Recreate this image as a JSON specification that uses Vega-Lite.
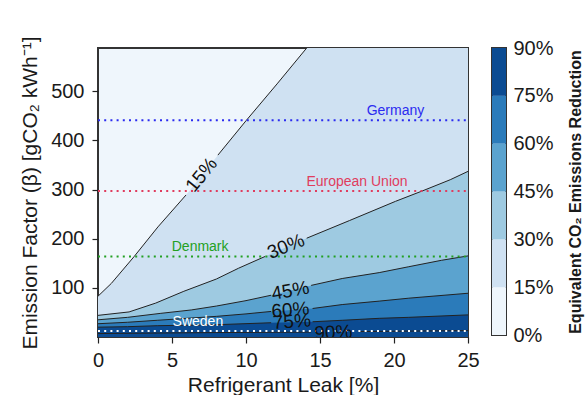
{
  "$schema": "https://vega.github.io/schema/vega-lite/v6.json",
  "padding": {"left": 18, "top": 34, "right": 0, "bottom": 0},
  "bounds": "flush",
  "spacing": 24,
  "resolve": {"scale": {"color": "independent"}},
  "config": {
    "font": "Liberation Sans",
    "view": {"fill": "#eff6fc", "stroke": "#333333", "strokeWidth": 2},
    "axis": {
      "grid": false, "domain": false, "tickColor": "#222222", "tickSize": 6, "tickWidth": 1.2,
      "labelFont": "Liberation Sans", "labelFontSize": 20, "labelColor": "#1a1a1a",
      "titleFont": "Liberation Sans", "titleFontWeight": "normal", "titleColor": "#1a1a1a",
      "labelFlush": false, "labelOverlap": false
    }
  },
  "datasets": {
    "contours": [
      {"level": 15, "part": "a", "x": 0, "beta": 83},
      {"level": 15, "part": "a", "x": 0.9, "beta": 109},
      {"level": 15, "part": "a", "x": 2.45, "beta": 164},
      {"level": 15, "part": "a", "x": 4.05, "beta": 224},
      {"level": 15, "part": "a", "x": 5.95, "beta": 289},
      {"level": 15, "part": "b", "x": 8.1, "beta": 370},
      {"level": 15, "part": "b", "x": 10, "beta": 440},
      {"level": 15, "part": "b", "x": 12.1, "beta": 515},
      {"level": 15, "part": "b", "x": 14.1, "beta": 588},
      {"level": 15, "part": "top", "x": 25, "beta": 588},
      {"level": 30, "part": "a", "x": 0, "beta": 44},
      {"level": 30, "part": "a", "x": 2.1, "beta": 51},
      {"level": 30, "part": "a", "x": 3.9, "beta": 69},
      {"level": 30, "part": "a", "x": 5.8, "beta": 93},
      {"level": 30, "part": "a", "x": 8, "beta": 118},
      {"level": 30, "part": "a", "x": 9.5, "beta": 140},
      {"level": 30, "part": "a", "x": 11.3, "beta": 164},
      {"level": 30, "part": "b", "x": 14.1, "beta": 201},
      {"level": 30, "part": "b", "x": 17, "beta": 237},
      {"level": 30, "part": "b", "x": 20.1, "beta": 276},
      {"level": 30, "part": "b", "x": 21.9, "beta": 297},
      {"level": 30, "part": "b", "x": 23.8, "beta": 320},
      {"level": 30, "part": "b", "x": 25, "beta": 337},
      {"level": 45, "part": "a", "x": 0, "beta": 35},
      {"level": 45, "part": "a", "x": 2, "beta": 40},
      {"level": 45, "part": "a", "x": 4.2, "beta": 48},
      {"level": 45, "part": "a", "x": 6.3, "beta": 55},
      {"level": 45, "part": "a", "x": 8, "beta": 63},
      {"level": 45, "part": "a", "x": 10, "beta": 74},
      {"level": 45, "part": "a", "x": 11.7, "beta": 85},
      {"level": 45, "part": "b", "x": 14.4, "beta": 105},
      {"level": 45, "part": "b", "x": 16.5, "beta": 119},
      {"level": 45, "part": "b", "x": 19, "beta": 131},
      {"level": 45, "part": "b", "x": 21, "beta": 143},
      {"level": 45, "part": "b", "x": 23.2, "beta": 156},
      {"level": 45, "part": "b", "x": 25, "beta": 165},
      {"level": 60, "part": "a", "x": 0, "beta": 27},
      {"level": 60, "part": "a", "x": 2, "beta": 30},
      {"level": 60, "part": "a", "x": 4, "beta": 34},
      {"level": 60, "part": "a", "x": 6, "beta": 38},
      {"level": 60, "part": "a", "x": 8, "beta": 42},
      {"level": 60, "part": "a", "x": 10, "beta": 47},
      {"level": 60, "part": "a", "x": 11.7, "beta": 52},
      {"level": 60, "part": "b", "x": 14.5, "beta": 58},
      {"level": 60, "part": "b", "x": 16.5, "beta": 66},
      {"level": 60, "part": "b", "x": 19, "beta": 73},
      {"level": 60, "part": "b", "x": 21, "beta": 79},
      {"level": 60, "part": "b", "x": 25, "beta": 89},
      {"level": 75, "part": "a", "x": 0, "beta": 20},
      {"level": 75, "part": "a", "x": 2, "beta": 21},
      {"level": 75, "part": "a", "x": 4, "beta": 23},
      {"level": 75, "part": "a", "x": 8, "beta": 25},
      {"level": 75, "part": "a", "x": 11.7, "beta": 29},
      {"level": 75, "part": "b", "x": 14.5, "beta": 31},
      {"level": 75, "part": "b", "x": 16.5, "beta": 34},
      {"level": 75, "part": "b", "x": 19, "beta": 38},
      {"level": 75, "part": "b", "x": 21, "beta": 40},
      {"level": 75, "part": "b", "x": 25, "beta": 45},
      {"level": 90, "part": "a", "x": 0, "beta": 7},
      {"level": 90, "part": "a", "x": 4, "beta": 8},
      {"level": 90, "part": "a", "x": 8, "beta": 9},
      {"level": 90, "part": "a", "x": 14.4, "beta": 10},
      {"level": 90, "part": "b", "x": 17.6, "beta": 11},
      {"level": 90, "part": "b", "x": 21, "beta": 12},
      {"level": 90, "part": "b", "x": 25, "beta": 13}
    ],
    "clabels": [
      {"label": "15%", "x": 7.0, "beta": 330},
      {"label": "30%", "x": 12.7, "beta": 184},
      {"label": "45%", "x": 13.0, "beta": 94},
      {"label": "60%", "x": 13.0, "beta": 55},
      {"label": "75%", "x": 13.1, "beta": 31},
      {"label": "90%", "x": 15.9, "beta": 9}
    ],
    "refs": [
      {"country": "Germany", "beta": 441, "x": 20.1},
      {"country": "European Union", "beta": 297, "x": 17.5},
      {"country": "Denmark", "beta": 164, "x": 6.9},
      {"country": "Sweden", "beta": 12, "x": 6.75}
    ],
    "bands": [
      {"lo": 0, "hi": 15, "band": "0-15"},
      {"lo": 15, "hi": 30, "band": "15-30"},
      {"lo": 30, "hi": 45, "band": "30-45"},
      {"lo": 45, "hi": 60, "band": "45-60"},
      {"lo": 60, "hi": 75, "band": "60-75"},
      {"lo": 75, "hi": 90, "band": "75-90"}
    ]
  },
  "hconcat": [
    {
      "width": 370,
      "height": 289,
      "encoding": {
        "x": {
          "field": "x", "type": "quantitative",
          "scale": {"domain": [0, 25], "nice": false, "zero": false},
          "axis": {"values": [0, 5, 10, 15, 20, 25], "title": "Refrigerant Leak [%]", "titleFontSize": 21, "labelPadding": 7, "titlePadding": 4}
        },
        "y": {
          "field": "beta", "type": "quantitative",
          "scale": {"domain": [0, 588], "nice": false, "zero": false},
          "axis": {"values": [100, 200, 300, 400, 500], "title": "Emission Factor (β) [gCO₂ kWh⁻¹]", "titleFontSize": 21, "labelPadding": 8, "titlePadding": 10}
        }
      },
      "layer": [
        {"data": {"name": "contours"}, "transform": [{"filter": "datum.level == 15"}], "mark": {"type": "area", "fill": "#cfe1f2", "clip": true}, "encoding": {"y2": {"datum": 0}}},
        {"data": {"name": "contours"}, "transform": [{"filter": "datum.level == 30"}], "mark": {"type": "area", "fill": "#9ecae1", "clip": true}, "encoding": {"y2": {"datum": 0}}},
        {"data": {"name": "contours"}, "transform": [{"filter": "datum.level == 45"}], "mark": {"type": "area", "fill": "#5ba3cf", "clip": true}, "encoding": {"y2": {"datum": 0}}},
        {"data": {"name": "contours"}, "transform": [{"filter": "datum.level == 60"}], "mark": {"type": "area", "fill": "#2b7bba", "clip": true}, "encoding": {"y2": {"datum": 0}}},
        {"data": {"name": "contours"}, "transform": [{"filter": "datum.level == 75"}], "mark": {"type": "area", "fill": "#0b4b92", "clip": true}, "encoding": {"y2": {"datum": 0}}},
        {
          "data": {"name": "contours"},
          "transform": [{"filter": "datum.part != 'top'"}],
          "mark": {"type": "line", "stroke": "#222222", "strokeWidth": 1, "clip": true},
          "encoding": {"detail": [{"field": "level", "type": "nominal"}, {"field": "part", "type": "nominal"}]}
        },
        {
          "data": {"name": "refs"},
          "mark": {"type": "rule", "strokeDash": [2, 4.2], "strokeWidth": 2},
          "encoding": {
            "x": {"datum": 0, "type": "quantitative"},
            "x2": {"datum": 25},
            "color": {"field": "country", "type": "nominal", "scale": {"domain": ["Germany", "European Union", "Denmark", "Sweden"], "range": ["#2b2bf0", "#e03c5e", "#23a023", "#ffffff"]}, "legend": null}
          }
        },
        {
          "data": {"name": "refs"},
          "mark": {"type": "text", "fontSize": 14, "dy": -9},
          "encoding": {
            "text": {"field": "country"},
            "color": {"field": "country", "type": "nominal", "scale": {"domain": ["Germany", "European Union", "Denmark", "Sweden"], "range": ["#2b2bf0", "#e03c5e", "#23a023", "#ffffff"]}, "legend": null}
          }
        },
        {"data": {"name": "clabels"}, "transform": [{"filter": "datum.label == '15%'"}], "mark": {"type": "text", "fontSize": 19, "color": "#111111", "angle": 309}, "encoding": {"text": {"field": "label"}}},
        {"data": {"name": "clabels"}, "transform": [{"filter": "datum.label == '30%'"}], "mark": {"type": "text", "fontSize": 19, "color": "#111111", "angle": 338}, "encoding": {"text": {"field": "label"}}},
        {"data": {"name": "clabels"}, "transform": [{"filter": "datum.label == '45%'"}], "mark": {"type": "text", "fontSize": 19, "color": "#111111", "angle": 350}, "encoding": {"text": {"field": "label"}}},
        {"data": {"name": "clabels"}, "transform": [{"filter": "datum.label == '60%'"}], "mark": {"type": "text", "fontSize": 19, "color": "#111111", "angle": 355}, "encoding": {"text": {"field": "label"}}},
        {"data": {"name": "clabels"}, "transform": [{"filter": "datum.label == '75%'"}], "mark": {"type": "text", "fontSize": 19, "color": "#111111", "angle": 356}, "encoding": {"text": {"field": "label"}}},
        {"data": {"name": "clabels"}, "transform": [{"filter": "datum.label == '90%'"}], "mark": {"type": "text", "fontSize": 19, "color": "#111111", "angle": 357, "clip": true}, "encoding": {"text": {"field": "label"}}}
      ]
    },
    {
      "width": 14,
      "height": 287,
      "data": {"name": "bands"},
      "mark": {"type": "rect"},
      "encoding": {
        "x": {"datum": 0, "type": "quantitative", "scale": {"domain": [0, 1], "nice": false}, "axis": null},
        "x2": {"datum": 1},
        "y": {
          "field": "lo", "type": "quantitative",
          "scale": {"domain": [0, 90], "nice": false},
          "axis": {"orient": "right", "values": [0, 15, 30, 45, 60, 75, 90], "labelExpr": "datum.value + '%'", "ticks": false, "labelPadding": 7,
                   "title": "Equivalent CO₂ Emissions Reduction", "titleFontSize": 16, "titleFontWeight": "bold", "titleAngle": 270, "titleBaseline": "top", "titlePadding": 14}
        },
        "y2": {"field": "hi"},
        "color": {"field": "band", "type": "nominal", "scale": {"domain": ["0-15", "15-30", "30-45", "45-60", "60-75", "75-90"], "range": ["#eff6fc", "#cfe1f2", "#9ecae1", "#5ba3cf", "#2b7bba", "#0b4b92"]}, "legend": null}
      }
    }
  ]
}
